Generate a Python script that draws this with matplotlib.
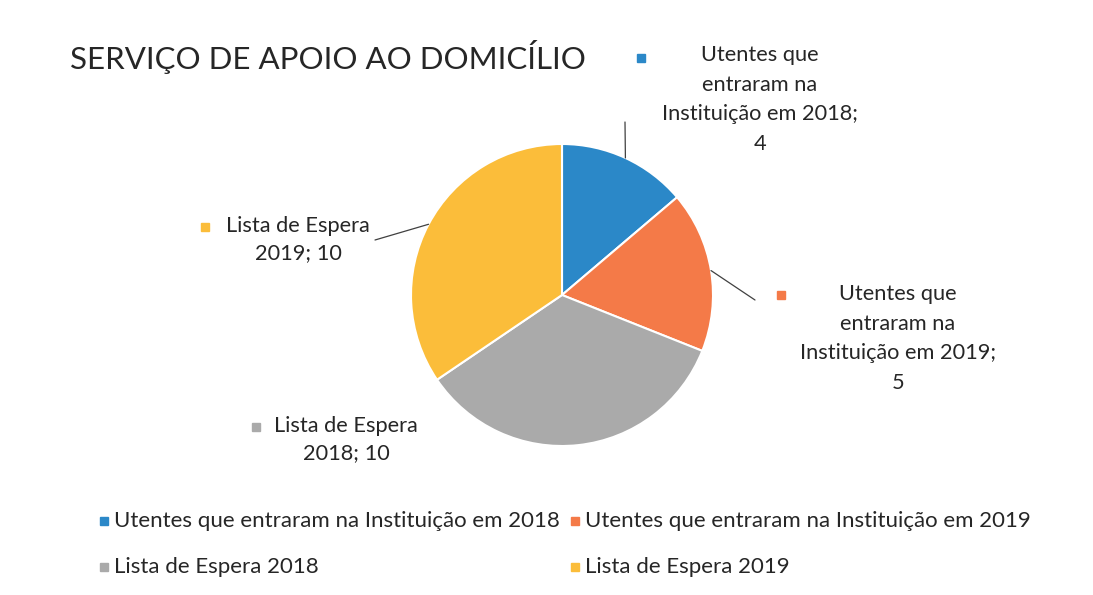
import numpy as np
import matplotlib.pyplot as plt

plt.rcParams['font.family'] = ['Lato', 'DejaVu Sans']

categories = ['Utentes que entraram na Instituição em 2018',
              'Utentes que entraram na Instituição em 2019',
              'Lista de Espera 2018',
              'Lista de Espera 2019']
values = [4, 5, 10, 10]
label_texts = ['Utentes que\nentraram na\nInstituição em 2018;\n4',
               'Utentes que\nentraram na\nInstituição em 2019;\n5',
               'Lista de Espera\n2018; 10',
               'Lista de Espera\n2019; 10']
colors = ['#2b88c8', '#f47a48', '#aaaaaa', '#fbbd3a']

W, H = 1093, 595
fig = plt.figure(figsize=(W / 100, H / 100), dpi=100)

def fx(px):
    return px / W

def fy(py):
    return 1 - py / H

# pie axes: center (562, 295), radius 151 px
cx, cy, r = 562, 295, 151
ax = fig.add_axes([fx(cx - r), fy(cy + r), 2 * r / W, 2 * r / H])
wedges, _ = ax.pie(values, colors=colors, startangle=90, counterclock=False,
                   radius=1, wedgeprops=dict(edgecolor='white', linewidth=1.5))
ax.set_xlim(-1, 1)
ax.set_ylim(-1, 1)
ax.set_aspect('equal')
ax.axis('off')

fig.text(fx(70), fy(57), 'SERVIÇO DE APOIO AO DOMICÍLIO', fontsize=22.5,
         color='#262626', va='center', ha='left')

# data labels: (text center x, top y, marker x, marker y, leader end, line spacing)
label_pos = [(760, 45, 641, 58, (625, 122), 1.6),
             (898, 284, 781, 295, (755, 300), 1.6),
             (346, 416, 256, 427, None, 1.45),
             (298, 216, 205, 227, (375, 240), 1.45)]
for i, w in enumerate(wedges):
    tx, ty, mx, my, end, ls = label_pos[i]
    fig.text(fx(tx), fy(ty), label_texts[i], ha='center', va='top',
             fontsize=15.7, color='#262626', linespacing=ls)
    fig.patches.append(plt.Rectangle((fx(mx - 4), fy(my + 4)), 8 / W, 8 / H,
                                     transform=fig.transFigure, color=colors[i]))
    if end is not None:
        mid = np.deg2rad((w.theta1 + w.theta2) / 2)
        ax.annotate('', xy=(np.cos(mid), np.sin(mid)), xycoords='data',
                    xytext=(fx(end[0]), fy(end[1])), textcoords='figure fraction',
                    arrowprops=dict(arrowstyle='-', color='#404040', lw=0.9,
                                    shrinkA=0, shrinkB=0), annotation_clip=False)

# legend
leg_pos = [(104, 521), (575, 521), (104, 567), (575, 567)]
for i, name in enumerate(categories):
    mx, my = leg_pos[i]
    fig.patches.append(plt.Rectangle((fx(mx - 4), fy(my + 4)), 8 / W, 8 / H,
                                     transform=fig.transFigure, color=colors[i]))
    fig.text(fx(mx + 10), fy(my), name, ha='left', va='center',
             fontsize=16, color='#262626')

fig.savefig('out.png', dpi=100, facecolor='white')
